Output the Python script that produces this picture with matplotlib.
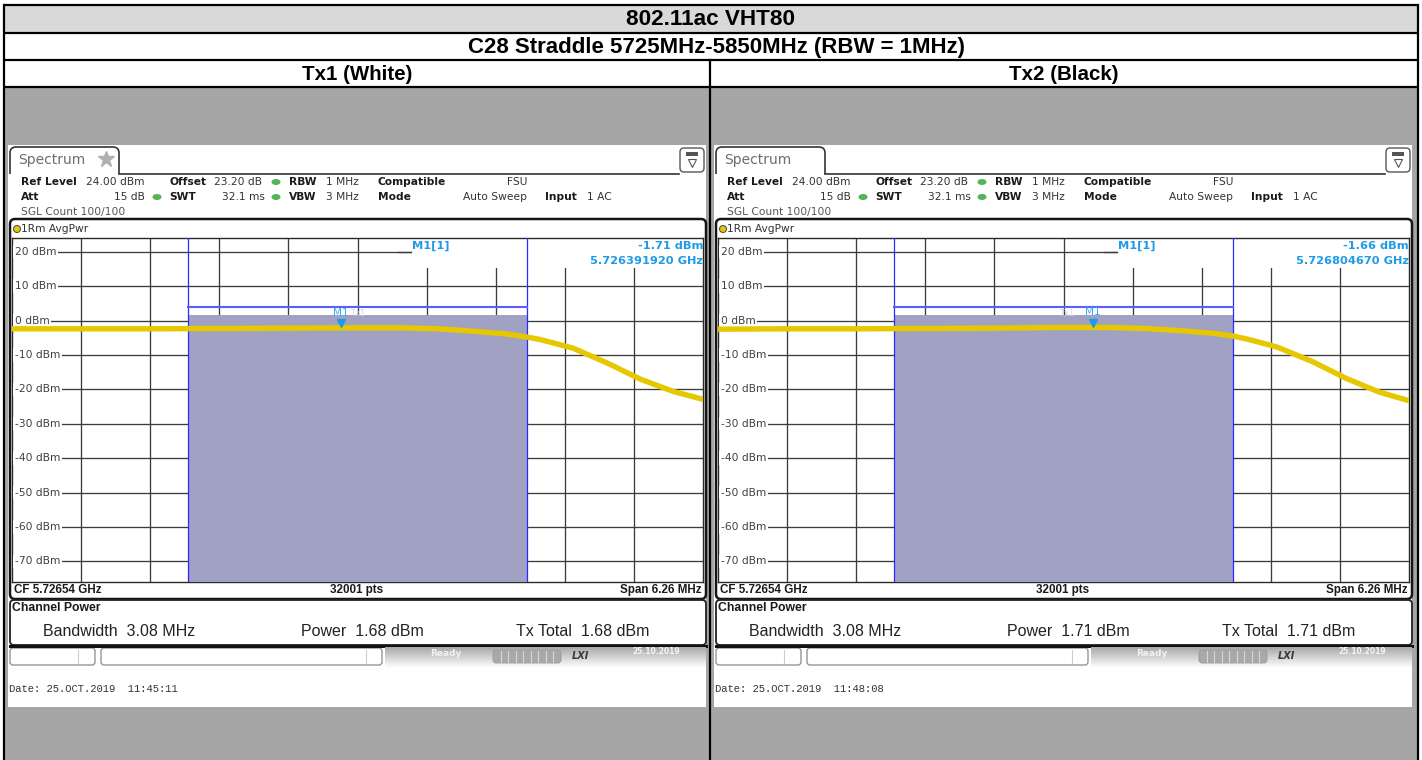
import numpy as np
import matplotlib.pyplot as plt
from matplotlib import transforms
from matplotlib.patches import Rectangle, FancyBboxPatch, Ellipse

W, H = 1422, 760

# table headings
title = '802.11ac VHT80'
subtitle = 'C28 Straddle 5725MHz-5850MHz (RBW = 1MHz)'
tx_names = ['Tx1 (White)', 'Tx2 (Black)']

# analyzer setup (same on both screens)
cf_ghz = 5.72654
span_mhz = 6.26
ref_level = 24.0
bottom_level = -76.0
level_ticks = [20, 10, 0, -10, -20, -30, -40, -50, -60, -70]
chan_start_ghz = 5.725
chan_bw_mhz = 3.08
sweep_pts = 32001

# averaged trace: offset from CF (MHz) -> dBm
trace_off_mhz = [-3.13, -2.505, -1.88, -1.255, -0.63, -0.005, 0.385, 0.747,
                 1.046, 1.354, 1.536, 1.653, 1.88, 1.95, 2.26, 2.56, 2.86, 3.13]
trace_tx1 = [-2.4, -2.4, -2.4, -2.3, -2.2, -2.1, -2.1, -2.4,
             -3.1, -3.9, -4.8, -5.5, -7.4, -8.0, -12.3, -17.0, -20.6, -22.9]
trace_tx2 = [-2.5, -2.4, -2.4, -2.3, -2.2, -2.0, -2.0, -2.3,
             -2.9, -3.7, -4.5, -5.3, -7.2, -7.9, -12.0, -16.8, -20.8, -23.3]
traces = [trace_tx1, trace_tx2]

marker_ghz = [5.726391920, 5.726804670]
marker_dbm = [-1.71, -1.66]
chan_power = [1.68, 1.71]
dates = ['25.OCT.2019  11:45:11', '25.OCT.2019  11:48:08']
show_star = [True, False]

plt.rcParams['font.family'] = ['DejaVu Sans']

fig = plt.figure(figsize=(W / 100, H / 100), dpi=100)
bg = fig.add_axes([0, 0, 1, 1])
bg.set_xlim(0, W)
bg.set_ylim(H, 0)
bg.set_autoscale_on(False)
bg.axis('off')

TABLE = dict(family='Liberation Sans', weight='bold', ha='center', va='center', color='black')

# --- table frame ---
bg.add_patch(Rectangle((4, 5), 1414, 28, fc='#d9d9d9', ec='none'))
bg.add_patch(Rectangle((4, 87), 1414, 673, fc='#a6a6a6', ec='none'))
for y in [5, 33, 60, 87]:
    bg.plot([4, 1418], [y, y], color='black', lw=1.6, solid_capstyle='butt')
bg.plot([4, 4], [5, 760], color='black', lw=1.6)
bg.plot([1418, 1418], [5, 760], color='black', lw=1.6)
bg.plot([710, 710], [60, 760], color='black', lw=1.6)
bg.text(711, 19.5, title, fontsize=16.2, **TABLE)
bg.text(716, 47, subtitle, fontsize=16, **TABLE)
bg.text(357, 74, tx_names[0], fontsize=14.8, **TABLE)
bg.text(1064, 74, tx_names[1], fontsize=14.8, **TABLE)

f_lo = cf_ghz - span_mhz / 2000
f_hi = cf_ghz + span_mhz / 2000
chan_end_ghz = chan_start_ghz + chan_bw_mhz / 1000
MKR = '#1e9be6'


def draw_screen(i, dx):
    # white screenshot area
    bg.add_patch(Rectangle((8 + dx, 145), 698, 562, fc='white', ec='none'))

    # "Spectrum" tab and top-right icon
    bg.add_patch(FancyBboxPatch((10 + dx, 147), 109, 34, boxstyle='round,pad=0,rounding_size=6',
                                fc='white', ec='#333333', lw=1.2))
    bg.add_patch(Rectangle((9 + dx, 174), 112, 10, fc='white', ec='none'))
    bg.plot([119 + dx, 679 + dx], [173.5, 173.5], color='#333333', lw=1.2)
    bg.text(18 + dx, 160, 'Spectrum', fontsize=10, color='#6e6e6e', va='center')
    if show_star[i]:
        bg.plot(106 + dx, 159, marker='*', ms=12, color='#b0b0b0')
    bg.add_patch(FancyBboxPatch((680 + dx, 148), 24, 24, boxstyle='round,pad=0,rounding_size=4',
                                fc='white', ec='#555555', lw=1))
    bg.add_patch(Rectangle((686 + dx, 152), 12, 4, fc='#555555', ec='none'))
    bg.plot(692 + dx, 163, marker='v', ms=6, mfc='white', mec='#555555', mew=0.8)

    # setting lines
    small = dict(fontsize=7.7, va='center', color='#333333')
    boldi = dict(fontsize=7.7, va='center', color='#1a1a1a', weight='bold')
    bg.text(21 + dx, 182, 'Ref Level', **boldi)
    bg.text(86 + dx, 182, f'{ref_level:.2f} dBm', **small)
    bg.text(169 + dx, 182, 'Offset', **boldi)
    bg.text(214 + dx, 182, '23.20 dB', **small)
    bg.text(289 + dx, 182, 'RBW', **boldi)
    bg.text(326 + dx, 182, '1 MHz', **small)
    bg.text(378 + dx, 182, 'Compatible', **boldi)
    bg.text(527 + dx, 182, 'FSU', ha='right', **small)
    bg.text(21 + dx, 197, 'Att', **boldi)
    bg.text(145 + dx, 197, '15 dB', ha='right', **small)
    bg.text(169 + dx, 197, 'SWT', **boldi)
    bg.text(265 + dx, 197, '32.1 ms', ha='right', **small)
    bg.text(289 + dx, 197, 'VBW', **boldi)
    bg.text(326 + dx, 197, '3 MHz', **small)
    bg.text(378 + dx, 197, 'Mode', **boldi)
    bg.text(527 + dx, 197, 'Auto Sweep', ha='right', **small)
    bg.text(545 + dx, 197, 'Input', **boldi)
    bg.text(587 + dx, 197, '1 AC', **small)
    bg.text(21 + dx, 212, 'SGL Count 100/100', fontsize=7.7, va='center', color='#555555')
    for ex, ey in [(276, 182), (157, 197), (276, 197)]:
        bg.add_patch(Ellipse((ex + dx, ey), 9, 6, fc='#56b356', ec='none'))

    # diagram frame, trace label and bottom line
    bg.add_patch(FancyBboxPatch((10 + dx, 219), 696, 380, boxstyle='round,pad=0,rounding_size=5',
                                fc='white', ec='#151515', lw=1.8))
    bg.add_patch(Ellipse((17 + dx, 229), 7, 7, fc='#e6c800', ec='#555555', lw=0.8))
    bg.text(21 + dx, 229, '1Rm AvgPwr', fontsize=7.7, va='center', color='#333333')
    foot = dict(family='Liberation Sans', weight='bold', fontsize=8.4, va='center', color='#1a1a1a')
    bg.text(14 + dx, 590, f'CF {cf_ghz:.5f} GHz', **foot)
    bg.text(357 + dx, 590, f'{sweep_pts} pts', ha='center', **foot)
    bg.text(701 + dx, 590, f'Span {span_mhz:.2f} MHz', ha='right', **foot)

    # channel power result box
    bg.add_patch(FancyBboxPatch((10 + dx, 600), 696, 45, boxstyle='round,pad=0,rounding_size=4',
                                fc='white', ec='#222222', lw=1.3))
    bg.plot([10 + dx, 706 + dx], [645.5, 645.5], color='#111111', lw=2.2)
    bg.text(12 + dx, 608, 'Channel Power', family='Liberation Sans', weight='bold',
            fontsize=8.8, va='center', color='#1a1a1a')
    res = dict(family='Liberation Sans', fontsize=11.5, va='center', color='#222222')
    bg.text(43 + dx, 631, f'Bandwidth  {chan_bw_mhz:.2f} MHz', **res)
    bg.text(301 + dx, 631, f'Power  {chan_power[i]:.2f} dBm', **res)
    bg.text(516 + dx, 631, f'Tx Total  {chan_power[i]:.2f} dBm', **res)

    # status bar
    bg.add_patch(FancyBboxPatch((10 + dx, 648), 85, 17, boxstyle='round,pad=0,rounding_size=3',
                                fc='white', ec='#8a8a8a', lw=0.9))
    bg.add_patch(FancyBboxPatch((101 + dx, 648), 281, 17, boxstyle='round,pad=0,rounding_size=3',
                                fc='white', ec='#8a8a8a', lw=0.9))
    bg.plot([78 + dx, 78 + dx], [650, 663], color='#cccccc', lw=0.8)
    bg.plot([366 + dx, 366 + dx], [650, 663], color='#cccccc', lw=0.8)
    grad = np.linspace(0.66, 0.98, 20)[:, None]
    bg.imshow(grad, extent=(385 + dx, 706 + dx, 667, 647), cmap='gray', vmin=0, vmax=1,
              aspect='auto', interpolation='bilinear', zorder=2)
    bg.text(430 + dx, 654, 'Ready', fontsize=6.5, weight='bold', color='#f2f2f2', va='center', zorder=4)
    bg.add_patch(FancyBboxPatch((493 + dx, 650), 68, 13, boxstyle='round,pad=0,rounding_size=3',
                                fc='#a9a9a9', ec='#9a9a9a', lw=0.6, zorder=3))
    for k in range(1, 9):
        bg.plot([493 + dx + k * 7.5] * 2, [651, 662], color='#d8d8d8', lw=0.8, zorder=4)
    bg.text(572 + dx, 656, 'LXI', fontsize=7, weight='bold', style='italic', color='#3a3a3a',
            va='center', zorder=4)
    bg.text(632 + dx, 651, '25.10.2019', fontsize=5.5, weight='bold', color='#f5f5f5',
            va='center', zorder=4)

    bg.text(9 + dx, 689, 'Date: ' + dates[i], family='Liberation Mono', fontsize=7.6,
            va='center', color='#333333')

    # --- the diagram itself ---
    ax = fig.add_axes([(12 + dx) / W, 1 - 582 / H, 691 / W, 344 / H])
    ax.set_xlim(f_lo, f_hi)
    ax.set_ylim(bottom_level, ref_level)
    ax.set_xticks([])
    ax.set_yticks([])
    for s in ax.spines.values():
        s.set_color('#2a2a2a')
        s.set_linewidth(1.0)

    for lv in level_ticks:
        ax.axhline(lv, color='#3c3c3c', lw=0.95, zorder=1)
    for k in range(1, 10):
        ax.axvline(f_lo + k * span_mhz / 10000, color='#3c3c3c', lw=0.95, zorder=1)

    # marker readout area hides the grid at top right
    ax.add_patch(Rectangle((0.579, 0.913), 0.421, 0.09, transform=ax.transAxes,
                           fc='white', ec='none', zorder=2))

    # channel bar
    ax.fill_between([chan_start_ghz, chan_end_ghz], bottom_level, chan_power[i],
                    color='#a1a1c3', lw=0, zorder=3)
    ax.axvline(chan_start_ghz, color='#2b2bff', lw=0.9, zorder=4)
    ax.axvline(chan_end_ghz, color='#2b2bff', lw=0.9, zorder=4)
    up = transforms.offset_copy(ax.transData, fig=fig, y=5.8, units='points')
    ax.plot([chan_start_ghz, chan_end_ghz], [chan_power[i]] * 2, color='#5c5cff',
            lw=1.5, transform=up, zorder=4)

    # level labels (under the trace, over the grid)
    lab = transforms.blended_transform_factory(ax.transAxes, ax.transData)
    for lv in level_ticks:
        ax.text(0.004, lv, f'{lv} dBm', transform=lab, fontsize=7.7, color='#404040',
                va='center', ha='left', zorder=4.5,
                bbox=dict(fc='white', ec='none', pad=1.2))

    # trace
    freqs = [cf_ghz + o / 1000 for o in trace_off_mhz]
    ax.plot(freqs, traces[i], color='#e6c800', lw=3.9, zorder=5,
            solid_joinstyle='round', solid_capstyle='butt')

    # marker M1
    mk = transforms.offset_copy(ax.transData, fig=fig, y=2.6, units='points')
    ax.plot(marker_ghz[i], marker_dbm[i], marker='v', ms=5.5, color=MKR, transform=mk, zorder=7)
    ax.annotate('M1', (marker_ghz[i], marker_dbm[i]), xytext=(0, 10), textcoords='offset points',
                ha='center', va='center', fontsize=7.6, color='#3aaaf0', zorder=7)
    ax.annotate('Tx1', (marker_ghz[i], marker_dbm[i]), xytext=(12 if i == 0 else -19, 9.5),
                textcoords='offset points', ha='center', va='center', fontsize=6,
                color='#d4d4e4', zorder=7)

    # marker readout
    rd = dict(transform=bg.transData, fontsize=8.2, weight='bold', color=MKR, va='center',
              clip_on=False, zorder=7)
    ax.text(412 + dx, 246, 'M1[1]', ha='left', **rd)
    ax.text(703 + dx, 246, f'{marker_dbm[i]:.2f} dBm', ha='right', **rd)
    ax.text(703 + dx, 261, f'{marker_ghz[i]:.9f} GHz', ha='right', **rd)
    ax.plot([398 + dx, 411 + dx], [252, 252], color='#3c3c3c', lw=0.95, transform=bg.transData,
            clip_on=False, zorder=2)


draw_screen(0, 0)
draw_screen(1, 706)

fig.savefig('out.png', dpi=100)
